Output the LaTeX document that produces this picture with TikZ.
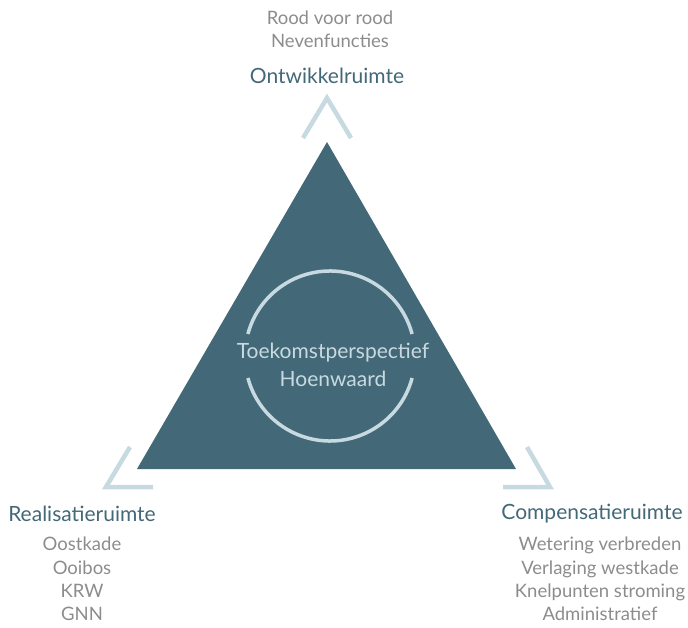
\documentclass[tikz,border=0pt]{standalone}
\usepackage{fontspec}
\setmainfont{Lato}
\usepackage{tikz}
\usetikzlibrary{positioning}

\definecolor{teal}{HTML}{436878}
\definecolor{pale}{HTML}{C8DAE1}
\definecolor{greytext}{HTML}{8C8C8C}

\begin{document}
\begin{tikzpicture}[x=1pt, y=-1pt,
        title/.style={text=teal, font=\fontsize{21}{24}\selectfont, inner sep=0pt},
        item/.style={text=greytext, font=\fontsize{18.5}{23.3}\selectfont, align=center, inner sep=0pt},
        centre/.style={text=pale, font=\fontsize{21}{28}\selectfont, align=center, inner sep=0pt},
        chevron/.style={draw=pale, line width=4.5pt, line join=miter},
        ring/.style={draw=pale, line width=3.5pt}
      ]
        \useasboundingbox (0,0) rectangle (688,628);

        % triangle
        \coordinate (top)   at (327,142);
        \coordinate (left)  at (137,469);
        \coordinate (right) at (516,469);
        \fill[teal] (top) -- (left) -- (right) -- cycle;

        % ring with gaps for the text
        \coordinate (mid) at (330,356);
        \draw[ring] ([shift={(15:85)}]mid) arc[start angle=15, end angle=165, radius=85];
        \draw[ring] ([shift={(195:85)}]mid) arc[start angle=195, end angle=345, radius=85];
        \node[centre] (core) at (333,365) {Toekomstperspectief\\Hoenwaard};

        % chevrons
        \draw[chevron] (303,138) -- (327,98) -- (351,138);
        \draw[chevron] (130,447) -- (106,487) -- (153,487);
        \draw[chevron] (527,447) -- (550,487) -- (503,487);

        % top
        \node[title] (ontw)  at (327,76)  {Ontwikkelruimte};
        \node[item]  (ontwl) at (330,29)  {Rood voor rood\\Nevenfuncties};

        % left
        \node[title] (real)  at (82,514)  {Realisatieruimte};
        \node[item]  (reall) at (82,579)  {Oostkade\\Ooibos\\KRW\\GNN};

        % right
        \node[title] (comp)  at (592,514) {Compensatieruimte};
        \node[item]  (compl) at (600,579) {Wetering verbreden\\Verlaging westkade\\Knelpunten stroming\\Administratief};
      \end{tikzpicture}
\end{document}
